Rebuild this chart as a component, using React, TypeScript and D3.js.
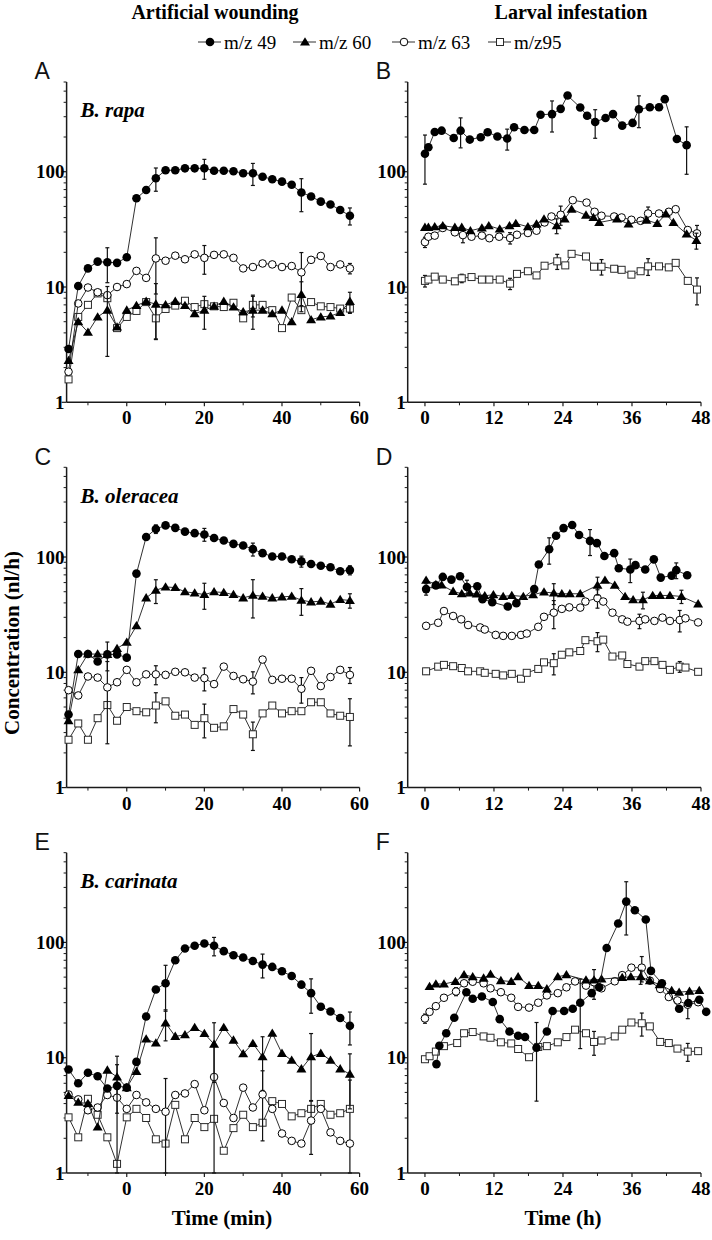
import React from "react";
import * as d3 from "d3";

// ---------- categories / time axes ----------
const tMin = [-15, -12.5, -10, -7.5, -5, -2.5, 0, 2.5, 5, 7.5, 10, 12.5, 15, 17.5, 20, 22.5, 25, 27.5, 30, 32.5, 35, 37.5, 40, 42.5, 45, 47.5, 50, 52.5, 55, 57.5];
const minTicksMajor = [0, 20, 40, 60];
const minTicksMinor = [-10, 10, 30, 50];
const hourTicksMajor = [0, 12, 24, 36, 48];
const hourTicksMinor = [6, 18, 30, 42];
const yTickLabels = [1, 10, 100];

// ---------- Panel A: B. rapa, artificial wounding ----------
const A49 = [2.9, 10.2, 14.5, 16.6, 16.4, 16.2, 18.1, 58.8, 69.4, 87.7, 103, 103, 107, 107, 107, 102, 102, 101, 97, 97, 90.5, 86, 82, 77, 66, 61, 55, 52, 46.5, 41.5];
const A60 = [2.3, 5.0, 4.05, 5.5, 6.3, 4.5, 6.3, 6.9, 7.5, 7.1, 7.0, 7.5, 6.9, 5.85, 6.3, 6.8, 7.5, 6.7, 6.1, 6.3, 6.3, 5.85, 6.3, 5.0, 8.6, 5.2, 5.5, 5.6, 6.0, 7.5];
const A63 = [1.84, 7.2, 9.9, 9.0, 8.5, 10.0, 10.6, 13.8, 12.0, 17.7, 16.9, 18.7, 17.4, 19.2, 17.9, 19.0, 19.2, 17.9, 14.5, 14.9, 16.0, 15.7, 14.9, 15.2, 13.4, 17.2, 18.6, 14.9, 15.7, 14.5];
const A95 = [1.58, 5.5, 7.0, 8.8, 8.0, 4.4, 5.5, 6.2, 7.4, 5.35, 6.45, 6.9, 7.6, 6.7, 7.1, 6.8, 6.7, 7.3, 5.35, 7.0, 7.0, 6.3, 4.4, 8.1, 6.3, 7.4, 6.8, 6.7, 6.5, 6.5];
const A49err: [number, number][] = [[4, 5.5], [9, 20], [14, 21], [19, 21], [24, 21], [29, 7]];
const A60err: [number, number][] = [[4, 3.8], [9, 3.6], [14, 2], [19, 2], [24, 2.5], [29, 1.5]];
const A63err: [number, number][] = [[9, 9], [14, 5], [24, 6.5], [29, 1.5]];
const A95err: [number, number][] = [[9, 1.8], [19, 1.5], [29, 0.6]];

// ---------- Panel C: B. oleracea, artificial wounding ----------
const C49 = [4.3, 14.4, 14.4, 12.4, 14.3, 14.3, 13.4, 71.8, 149, 175, 188, 179, 166, 161, 157, 146, 139, 130, 126, 117, 108, 101, 101, 95.5, 91.7, 87, 84, 81.4, 75.2, 77];
const C60 = [3.8, 10.5, 14.4, 14.4, 14.3, 16.1, 18.2, 25.3, 44.2, 51.5, 55.0, 54.3, 49.9, 48.8, 47.2, 49.9, 49.2, 47.2, 44.2, 46.6, 45.7, 44.2, 45.1, 45.7, 42.2, 40.8, 41.4, 39, 42.8, 42];
const C63 = [7.0, 6.3, 9.2, 9.0, 7.4, 8.2, 10.5, 8.2, 9.6, 9.6, 9.5, 10.1, 10.0, 9.0, 8.9, 7.9, 11.2, 9.3, 8.7, 8.3, 12.9, 8.6, 8.8, 8.8, 7.2, 10.3, 7.6, 9.1, 10.5, 9.5];
const C95 = [2.6, 3.6, 2.6, 4.0, 5.2, 3.8, 5.0, 4.6, 4.5, 5.15, 5.6, 4.2, 4.3, 3.5, 4.0, 3.3, 3.4, 4.8, 4.3, 2.9, 4.4, 5.15, 4.4, 4.6, 4.6, 5.5, 5.5, 4.4, 4.2, 4.1];
const C49err: [number, number][] = [[4, 4], [9, 15], [14, 20], [19, 15], [24, 10], [29, 7]];
const C60err: [number, number][] = [[9, 12], [14, 12], [19, 17], [24, 11], [29, 6]];
const C63err: [number, number][] = [[4, 5], [9, 1.8], [14, 2], [19, 1.8], [24, 1.8], [29, 1.5]];
const C95err: [number, number][] = [[9, 1.5], [14, 1.3], [19, 0.8], [29, 1.8]];

// ---------- Panel E: B. carinata, artificial wounding ----------
const E49 = [7.9, 6.0, 7.4, 6.9, 5.4, 5.7, 5.5, 9.2, 22.8, 39.1, 44.3, 70, 88.6, 93.5, 98, 93.5, 84, 77.5, 74, 69, 64.2, 61.3, 56.2, 51.1, 43, 36.3, 27.7, 25.2, 22.1, 18.9];
const E60 = [4.7, 4.1, 4.0, 2.5, 7.8, 6.8, 5.5, 7.6, 14.5, 13.4, 20, 15.3, 15.8, 18.3, 16.2, 13.1, 18.3, 14.2, 10.8, 13.3, 10.2, 16.3, 10.9, 9.5, 8.0, 10.2, 10.9, 9.5, 8.0, 7.2];
const E63 = [4.8, 4.35, 3.5, 3.7, 4.75, 4.5, 3.6, 4.75, 4.1, 3.6, 3.4, 4.75, 4.9, 5.9, 3.5, 6.8, 4.05, 3.0, 5.5, 3.7, 4.8, 3.6, 2.2, 1.9, 1.8, 2.85, 3.6, 2.25, 1.9, 1.8];
const E95 = [3.04, 2.04, 4.4, 3.2, 2.04, 1.2, 3.04, 3.6, 3.0, 1.96, 1.8, 3.9, 1.96, 3.0, 2.5, 2.95, 1.56, 2.45, 3.2, 2.5, 2.73, 4.2, 3.97, 3.1, 3.3, 3.6, 3.97, 3.2, 3.3, 3.6];
const E49err: [number, number][] = [[10, 19], [15, 17], [20, 15], [25, 12], [29, 6]];
const E60err: [number, number][] = [[5, 3.5], [10, 6], [15, 7], [20, 5], [25, 6], [29, 3.6]];
const E63err: [number, number][] = [[5, 4.2], [10, 3.2], [15, 6], [20, 2.9], [25, 1.4]];
const E95err: [number, number][] = [[29, 2.8]];

// ---------- Panel B: B. rapa, larval infestation ----------
const hB49 = [0, 0.6, 1.7, 2.9, 5.0, 6.2, 7.8, 9.7, 10.9, 12.6, 14.3, 15.5, 17.3, 19.0, 20.1, 22.1, 23.6, 24.8, 27.0, 28.2, 29.6, 31.4, 32.7, 34.3, 36.1, 37.2, 39.1, 40.7, 41.7, 43.8, 45.5];
const B49 = [143, 163, 221, 227, 196, 227, 190, 199, 220, 202, 194, 243, 230, 230, 312, 316, 351, 458, 361, 306, 270, 292, 316, 251, 265, 348, 362, 362, 426, 192, 170];
const hB60 = [0, 0.6, 1.7, 3.1, 5.2, 6.4, 7.9, 9.9, 11.1, 13.0, 14.7, 15.8, 17.9, 19.4, 20.7, 22.9, 24.3, 25.5, 28.0, 29.3, 30.3, 33.4, 35.4, 38.5, 40.4, 41.9, 43.2, 45.5, 47.2];
const B60 = [32.9, 32.9, 33.3, 34, 32.9, 32.9, 30.8, 32.5, 34, 31.8, 34, 35.6, 33.3, 35.2, 38.8, 34, 38.8, 47.3, 42, 40.1, 36.3, 38.8, 35.2, 38, 35.6, 42.9, 36.3, 28.8, 25.3];
const hB63 = [0, 0.6, 1.7, 3.1, 5.2, 6.6, 8.1, 9.9, 11.2, 12.9, 14.8, 16.0, 17.9, 19.4, 20.8, 22.0, 23.6, 25.7, 28.1, 29.5, 30.7, 32.9, 34.2, 35.9, 37.5, 38.8, 40.7, 42.4, 43.6, 45.7, 47.3];
const B63 = [24.5, 27.3, 27.9, 32.5, 29.8, 28.2, 27.3, 27.9, 26.5, 27.3, 26.6, 28.4, 29.4, 30.8, 36.3, 40.9, 42.3, 56.6, 54, 44.9, 41.5, 40.9, 40.1, 38.3, 37.5, 43.4, 43.4, 44.9, 47.3, 31.2, 29.2];
const hB95 = [0, 0.6, 1.7, 3.1, 5.2, 6.4, 8.1, 9.9, 11.2, 13.0, 14.8, 16.0, 17.9, 19.4, 20.8, 23.0, 24.4, 25.5, 28.0, 29.4, 30.7, 32.9, 34.2, 35.9, 37.5, 38.8, 40.7, 42.4, 43.6, 45.7, 47.3];
const B95 = [11.3, 11.6, 12.3, 11.6, 11.2, 11.9, 12.2, 11.6, 11.6, 11.6, 10.7, 13.0, 13.7, 12.6, 15.3, 16.7, 15.4, 19.4, 18.4, 15, 15, 14.4, 14.1, 12.8, 13.7, 15.1, 15.1, 14.8, 16.2, 11.3, 9.5];
const B49err: [number, number][] = [[0, 65], [5, 66], [10, 40], [15, 95], [20, 75], [25, 107], [30, 75]];
const B60err: [number, number][] = [[15, 5], [28, 4]];
const B63err: [number, number][] = [[0, 2.5], [5, 4], [10, 3], [16, 8], [25, 6], [30, 5]];
const B95err: [number, number][] = [[0, 1.3], [5, 1], [10, 1.2], [15, 2.5], [20, 2.3], [25, 2.5], [30, 2.5]];

// ---------- Panel D: B. oleracea, larval infestation ----------
const hD49 = [0.2, 1.9, 3.1, 4.6, 6.1, 7.3, 9.1, 10.0, 11.7, 14.4, 15.9, 19.0, 19.8, 21.6, 22.8, 24.1, 25.6, 26.8, 28.7, 29.9, 31.2, 32.9, 33.7, 35.7, 36.6, 38.3, 39.8, 41.0, 42.9, 43.7, 45.6];
const D49 = [52.7, 56.8, 67.2, 63.7, 68.1, 54.9, 55.7, 43.1, 40.6, 37.2, 39.8, 52.7, 86.2, 116.7, 152.7, 178.2, 189.5, 155, 138, 132, 102, 108, 80, 78, 85, 78, 95.4, 66.3, 69, 76.9, 69.5];
const hD60 = [0.2, 1.9, 2.9, 4.9, 6.4, 7.8, 9.0, 10.4, 11.9, 13.6, 15.1, 17.1, 18.8, 20.7, 22.4, 23.8, 25.2, 27.0, 30.0, 31.3, 33.0, 34.8, 36.2, 37.9, 39.6, 40.9, 42.6, 44.6, 47.5];
const D60 = [62.9, 57.6, 57.2, 50.3, 48.0, 48.7, 47.7, 46.1, 47.1, 45.5, 46.4, 45.5, 47.1, 49.7, 48.7, 48.0, 48.0, 48.0, 56.8, 62.9, 56.8, 45.5, 42.5, 42.5, 46.4, 46.4, 46.4, 45.5, 39.2];
const hD63 = [0.2, 2.3, 3.3, 4.9, 6.3, 7.5, 9.6, 10.4, 12.3, 13.6, 15.1, 16.7, 17.7, 19.7, 20.7, 22.4, 23.8, 25.1, 27.0, 27.9, 30.0, 31.0, 32.6, 34.3, 35.2, 37.3, 38.3, 39.9, 41.3, 42.6, 44.3, 45.3, 47.5];
const D63 = [25.3, 26.9, 34.0, 30.8, 28.8, 25.7, 24.5, 23.5, 21.1, 20.7, 20.7, 21.1, 21.7, 24.8, 30.3, 32.9, 35.5, 36.6, 36.4, 41.1, 44.0, 41.1, 32.9, 28.8, 27.5, 27.9, 28.8, 27.9, 29.8, 27.9, 28.4, 29.4, 27.1];
const hD95 = [0.2, 2.3, 3.3, 4.9, 6.4, 7.5, 9.6, 10.4, 12.3, 13.6, 15.1, 16.7, 17.7, 19.7, 20.7, 22.4, 23.8, 25.1, 27.0, 27.9, 30.0, 31.0, 32.6, 34.3, 35.2, 37.3, 38.3, 39.9, 41.3, 42.6, 44.3, 45.3, 47.5];
const D95 = [10.2, 11.2, 11.6, 11.3, 10.9, 10.2, 10.2, 9.9, 9.7, 9.4, 9.7, 8.8, 9.9, 10.7, 12.2, 12.0, 14.2, 14.9, 15.3, 19.0, 18.6, 19.2, 13.7, 14.0, 11.8, 11.2, 12.5, 12.5, 11.6, 10.5, 11.2, 11.0, 10.1];
const D49err: [number, number][] = [[0, 6], [5, 8], [13, 30], [18, 35], [23, 18], [29, 12]];
const D60err: [number, number][] = [[14, 10], [18, 10], [23, 7], [27, 6]];
const D63err: [number, number][] = [[15, 9], [20, 8], [25, 4], [30, 6]];
const D95err: [number, number][] = [[0, 0.6], [15, 2.5], [20, 3.5], [30, 1.2]];

// ---------- Panel F: B. carinata, larval infestation ----------
const hF49 = [2.0, 2.5, 3.7, 5.1, 7.2, 8.3, 9.9, 11.8, 13.0, 14.7, 16.2, 17.4, 19.4, 21.2, 22.2, 24.2, 25.7, 27.0, 29.0, 30.3, 31.6, 33.6, 35.0, 36.5, 38.4, 39.3, 41.2, 44.2, 45.8, 47.7, 48.9];
const F49 = [8.8, 12.7, 16.3, 22.2, 37, 32.5, 34.0, 30.4, 21.6, 16.9, 15.5, 15.1, 12.2, 16.9, 25.4, 25.4, 26.6, 30, 36.3, 40.8, 89.5, 146, 226, 190, 158, 56.6, 44.2, 26.6, 29.8, 31.8, 25];
const hF60 = [0.8, 1.9, 3.3, 5.3, 6.8, 8.3, 10.2, 11.4, 13.2, 15.0, 16.2, 18.1, 19.7, 21.2, 23.1, 24.6, 28.0, 29.4, 30.7, 34.3, 35.8, 37.5, 39.1, 40.8, 42.9, 44.2, 46.0, 47.7];
const F60 = [41.4, 43.6, 43.6, 45.8, 52.3, 50.3, 49, 53, 46.6, 45.8, 50.3, 42.2, 42.2, 39.5, 50.3, 52.3, 47.1, 47.1, 48.1, 49.6, 50.3, 50.3, 46.6, 43, 38.2, 37, 37.7, 38.2];
const hF63 = [0, 0.8, 1.9, 3.3, 5.4, 6.8, 8.3, 10.2, 11.4, 13.2, 15.0, 16.2, 18.1, 19.7, 21.2, 23.1, 24.6, 26.1, 28.0, 29.4, 30.7, 33.0, 34.3, 35.9, 37.7, 39.1, 40.9, 42.4, 43.9, 45.7, 47.5];
const F63 = [21.9, 25, 28, 33.1, 37.5, 44.2, 45.6, 44.2, 40, 37, 33.1, 27.6, 27.2, 30, 34.7, 36.3, 40.8, 45.9, 42.2, 45.1, 40, 46, 52, 60.4, 60.4, 46.6, 39.5, 33.6, 31.4, 28.8, 30.3];
const hF95 = [0, 0.8, 1.9, 3.3, 5.6, 6.8, 8.3, 10.2, 11.4, 13.2, 15.0, 16.2, 18.1, 19.7, 21.2, 23.1, 24.6, 26.1, 28.0, 29.4, 30.7, 33.0, 34.3, 35.9, 37.7, 39.1, 40.9, 42.4, 43.9, 45.7, 47.5];
const F95 = [9.7, 10.3, 11.3, 12.6, 13.4, 16.3, 16.7, 15.3, 14.9, 13.6, 13.3, 11.9, 10.1, 12.4, 12.6, 13.6, 15.1, 17.5, 16.3, 13.7, 14.1, 15.3, 17.5, 20.2, 19.9, 18.7, 13.7, 13.4, 12.0, 11.3, 11.4];
const F49err: [number, number][] = [[12, 8], [17, 18], [22, 110]];
const F60err: [number, number][] = [[21, 7]];
const F63err: [number, number][] = [[0, 2], [4, 3], [14, 2], [19, 13], [24, 15], [29, 7]];
const F95err: [number, number][] = [[19, 3.2], [24, 4.5], [29, 2]];

// ---------- legend ----------
const seriesKeys = ["49", "60", "63", "95"];
const legendLabels = ["m/z 49", "m/z 60", "m/z 63", "m/z95"];

// ---------- layout ----------
const SERIF = "'Liberation Serif', 'Times New Roman', Times, serif";
const SANS = "'Liberation Sans', Arial, Helvetica, sans-serif";
const Y_MAX = 600;
const PANEL_H = 320.3;
const LEFT_COL = { x0: 66.6, x1: 359.6, domain: [-15.5, 60], major: minTicksMajor, minor: minTicksMinor };
const RIGHT_COL = { x0: 407.7, x1: 701, domain: [-3, 48], major: hourTicksMajor, minor: hourTicksMinor };
const ROW_BOTTOMS = [402.3, 787.6, 1173];

type Series = { key: string; x: number[]; y: number[]; err: [number, number][] };

function Marker({ kind, x, y }: { kind: string; x: number; y: number }) {
  if (kind === "49") return <circle cx={x} cy={y} r={4.3} fill="#000" />;
  if (kind === "60")
    return <path d={`M${x},${y - 4.8}L${x + 5},${y + 3.5}L${x - 5},${y + 3.5}Z`} fill="#000" />;
  if (kind === "63") return <circle cx={x} cy={y} r={3.8} fill="#fff" stroke="#000" strokeWidth={1} />;
  return <rect x={x - 3.5} y={y - 3.5} width={7} height={7} fill="#fff" stroke="#2a2a2a" strokeWidth={1} />;
}

function Panel({ col, bottom, letter, species, series }: { col: typeof LEFT_COL; bottom: number; letter: string; species?: string; series: Series[] }) {
  const x = d3.scaleLinear().domain(col.domain).range([col.x0, col.x1]);
  const y = d3.scaleLog().domain([1, Y_MAX]).range([bottom, bottom - PANEL_H]);
  const line = d3.line<[number, number]>().x((d) => x(d[0])).y((d) => y(d[1]));
  const minorY: number[] = [];
  [1, 10, 100].forEach((dec) => {
    for (let k = 2; k <= 9; k++) if (k * dec <= Y_MAX) minorY.push(k * dec);
  });
  const axisColor = "#1a1a1a";
  return (
    <g>
      {/* axes */}
      <line x1={col.x0} x2={col.x0} y1={y(1)} y2={y(Y_MAX)} stroke={axisColor} strokeWidth={1.5} />
      <line x1={col.x0} x2={col.x1} y1={y(1)} y2={y(1)} stroke={axisColor} strokeWidth={1.5} />
      {minorY.map((v) => (
        <line key={"my" + v} x1={col.x0 - 3} x2={col.x0} y1={y(v)} y2={y(v)} stroke={axisColor} strokeWidth={1} />
      ))}
      {yTickLabels.map((v) => (
        <g key={"yl" + v}>
          <line x1={col.x0 - 5} x2={col.x0} y1={y(v)} y2={y(v)} stroke={axisColor} strokeWidth={1.2} />
          <text x={col.x0 - 2} y={y(v) + 6.5} textAnchor="end" fontFamily={SERIF} fontWeight="bold" fontSize={19} fill="#000">
            {v}
          </text>
        </g>
      ))}
      {col.minor.map((v) => (
        <line key={"mx" + v} x1={x(v)} x2={x(v)} y1={y(1)} y2={y(1) + 3} stroke={axisColor} strokeWidth={1} />
      ))}
      {col.major.map((v) => (
        <g key={"xl" + v}>
          <line x1={x(v)} x2={x(v)} y1={y(1)} y2={y(1) + 4} stroke={axisColor} strokeWidth={1.2} />
          <text x={x(v)} y={y(1) + 22} textAnchor="middle" fontFamily={SERIF} fontWeight="bold" fontSize={19} fill="#000">
            {v}
          </text>
        </g>
      ))}
      <text x={col.x0 - 32} y={bottom - 323} fontFamily={SANS} fontSize={23} fill="#111">
        {letter}
      </text>
      {species && (
        <text x={col.x0 + 14} y={bottom - 285} fontFamily={SERIF} fontStyle="italic" fontWeight="bold" fontSize={21} fill="#000">
          {species}
        </text>
      )}
      {series.map((s) => {
        const pts: [number, number][] = s.x.map((t, i) => [t, s.y[i]]);
        return (
          <g key={s.key}>
            <path d={line(pts) || ""} fill="none" stroke="#1a1a1a" strokeWidth={0.9} />
            {s.err.map(([i, e]) => {
              const cx = x(s.x[i]);
              const hi = y(s.y[i] + e);
              const lo = y(Math.max(s.y[i] - e, 1));
              return (
                <g key={"e" + i}>
                  <line x1={cx} x2={cx} y1={hi} y2={lo} stroke="#111" strokeWidth={1.2} />
                  <line x1={cx - 2} x2={cx + 2} y1={hi} y2={hi} stroke="#111" strokeWidth={1.2} />
                  <line x1={cx - 2} x2={cx + 2} y1={lo} y2={lo} stroke="#111" strokeWidth={1.2} />
                </g>
              );
            })}
            {pts.map((p, i) => (
              <Marker key={i} kind={s.key} x={x(p[0])} y={y(p[1])} />
            ))}
          </g>
        );
      })}
    </g>
  );
}

const mk = (key: string, x: number[], y: number[], err: [number, number][]): Series => ({ key, x, y, err });

export default function App() {
  const legendX = [198, 293, 392, 488];
  const legendY = 42;
  return (
    <svg width={712} height={1240} style={{ position: "absolute", left: 0, top: 0, background: "#fff" }}>
      <rect x={0} y={0} width={712} height={1240} fill="#fff" />
      <text x={215} y={19} textAnchor="middle" fontFamily={SERIF} fontWeight="bold" fontSize={20}>
        Artificial wounding
      </text>
      <text x={571} y={19} textAnchor="middle" fontFamily={SERIF} fontWeight="bold" fontSize={20}>
        Larval infestation
      </text>
      {seriesKeys.map((k, i) => (
        <g key={"lg" + k}>
          <line x1={legendX[i]} x2={legendX[i] + 23} y1={legendY} y2={legendY} stroke="#1a1a1a" strokeWidth={0.9} />
          <Marker kind={k} x={legendX[i] + 12} y={legendY} />
          <text x={legendX[i] + 26} y={legendY + 6.5} fontFamily={SERIF} fontSize={19}>
            {legendLabels[i]}
          </text>
        </g>
      ))}
      <text transform={`translate(19,643) rotate(-90)`} textAnchor="middle" fontFamily={SERIF} fontWeight="bold" fontSize={21}>
        Concentration (nl/h)
      </text>

      <Panel col={LEFT_COL} bottom={ROW_BOTTOMS[0]} letter="A" species="B. rapa"
        series={[mk("95", tMin, A95, A95err), mk("63", tMin, A63, A63err), mk("60", tMin, A60, A60err), mk("49", tMin, A49, A49err)]} />
      <Panel col={RIGHT_COL} bottom={ROW_BOTTOMS[0]} letter="B"
        series={[mk("95", hB95, B95, B95err), mk("63", hB63, B63, B63err), mk("60", hB60, B60, B60err), mk("49", hB49, B49, B49err)]} />
      <Panel col={LEFT_COL} bottom={ROW_BOTTOMS[1]} letter="C" species="B. oleracea"
        series={[mk("95", tMin, C95, C95err), mk("63", tMin, C63, C63err), mk("60", tMin, C60, C60err), mk("49", tMin, C49, C49err)]} />
      <Panel col={RIGHT_COL} bottom={ROW_BOTTOMS[1]} letter="D"
        series={[mk("95", hD95, D95, D95err), mk("63", hD63, D63, D63err), mk("60", hD60, D60, D60err), mk("49", hD49, D49, D49err)]} />
      <Panel col={LEFT_COL} bottom={ROW_BOTTOMS[2]} letter="E" species="B. carinata"
        series={[mk("95", tMin, E95, E95err), mk("63", tMin, E63, E63err), mk("60", tMin, E60, E60err), mk("49", tMin, E49, E49err)]} />
      <Panel col={RIGHT_COL} bottom={ROW_BOTTOMS[2]} letter="F"
        series={[mk("95", hF95, F95, F95err), mk("63", hF63, F63, F63err), mk("60", hF60, F60, F60err), mk("49", hF49, F49, F49err)]} />

      <text x={222} y={1225} textAnchor="middle" fontFamily={SERIF} fontWeight="bold" fontSize={21}>
        Time (min)
      </text>
      <text x={563} y={1225} textAnchor="middle" fontFamily={SERIF} fontWeight="bold" fontSize={21}>
        Time (h)
      </text>
    </svg>
  );
}
